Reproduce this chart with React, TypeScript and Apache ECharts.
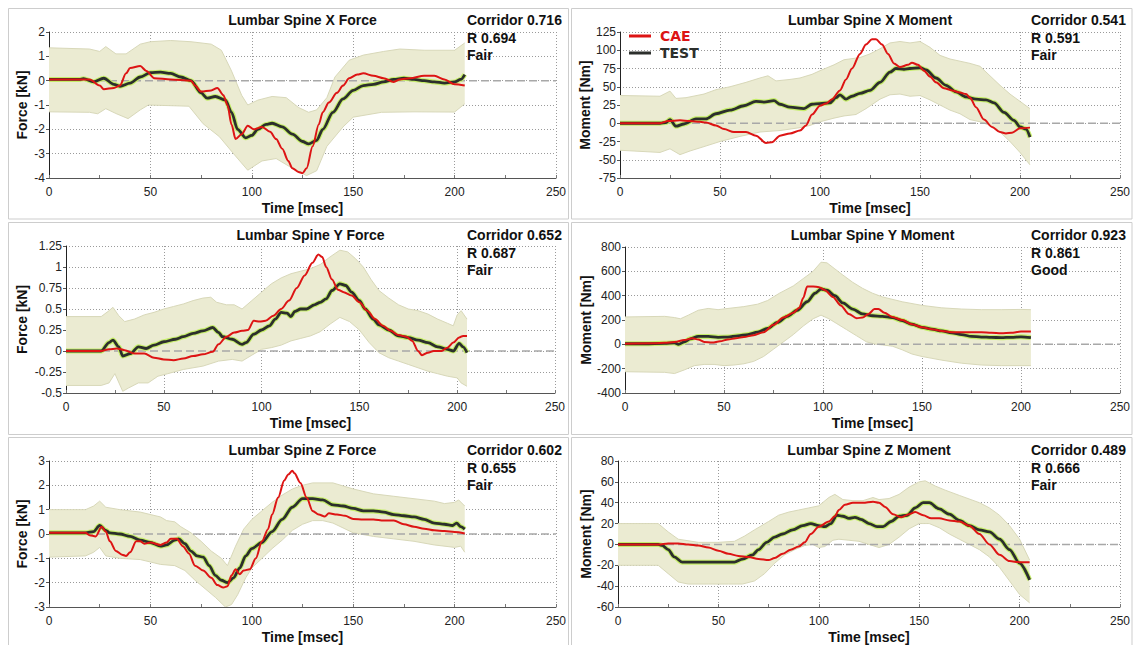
import React, { useEffect, useRef } from 'react';
import * as echarts from 'echarts';

// ---------- Data ----------
const timeMin = 0;
const timeMax = 250;
const timeStep = 50;

const titles = [
  'Lumbar Spine X Force', 'Lumbar Spine X Moment',
  'Lumbar Spine Y Force', 'Lumbar Spine Y Moment',
  'Lumbar Spine Z Force', 'Lumbar Spine Z Moment',
];
const yNames = ['Force [kN]', 'Moment [Nm]', 'Force [kN]', 'Moment [Nm]', 'Force [kN]', 'Moment [Nm]'];
const corridorScores = ['0.716', '0.541', '0.652', '0.923', '0.602', '0.489'];
const rScores = ['0.694', '0.591', '0.687', '0.861', '0.655', '0.666'];
const ratings = ['Fair', 'Fair', 'Fair', 'Good', 'Fair', 'Fair'];
const yMins = [-4, -75, -0.5, -400, -3, -60];
const yMaxs = [2, 125, 1.25, 800, 3, 80];
const ySteps = [1, 25, 0.25, 200, 1, 20];

// Lumbar Spine X Force
const xForceTest = [[0,0.05],[15,0.05],[17,0.08],[22,-0.05],[27,0.1],[32,-0.15],[35,-0.23],[40,-0.1],[45,0.15],[50,0.33],[55,0.35],[60,0.3],[65,0.15],[70,0.0],[75,-0.5],[78,-0.72],[82,-0.65],[87,-0.8],[90,-1.3],[93,-2.0],[97,-2.35],[100,-2.25],[103,-2.0],[107,-1.8],[110,-1.75],[115,-1.9],[120,-2.2],[125,-2.5],[128,-2.6],[132,-2.45],[135,-2.0],[140,-1.3],[145,-0.75],[150,-0.4],[155,-0.2],[160,-0.15],[165,-0.05],[170,0.05],[175,0.1],[180,0.05],[185,0.0],[190,-0.05],[195,-0.1],[200,-0.05],[203,0.05],[205,0.25]];
const xForceCae = [[0,0.05],[20,0.05],[25,-0.2],[27,-0.35],[32,-0.3],[35,-0.2],[38,0.3],[40,0.52],[45,0.6],[48,0.4],[52,0.1],[60,0.05],[70,0.0],[72,-0.2],[75,-0.45],[80,-0.4],[83,-0.3],[86,-0.6],[88,-1.0],[90,-1.8],[92,-2.4],[95,-2.2],[98,-1.85],[101,-2.0],[105,-1.9],[109,-2.1],[112,-2.4],[115,-2.8],[118,-3.3],[120,-3.6],[123,-3.75],[125,-3.8],[127,-3.6],[130,-2.7],[133,-1.8],[135,-1.3],[138,-0.9],[142,-0.5],[145,-0.2],[148,0.1],[152,0.25],[155,0.3],[160,0.2],[165,0.1],[170,-0.05],[173,0.05],[178,0.1],[185,0.2],[190,0.2],[195,0.05],[200,-0.15],[205,-0.2]];
const xForceUpper = [[0,1.35],[20,1.3],[25,1.2],[28,1.4],[33,1.1],[38,1.1],[45,1.5],[50,1.6],[60,1.65],[70,1.6],[80,1.5],[85,1.25],[90,0.4],[95,-0.6],[98,-1.0],[103,-0.8],[110,-0.65],[117,-0.7],[123,-1.1],[128,-1.3],[132,-1.2],[137,-0.7],[141,0.15],[148,0.84],[155,1.05],[165,1.2],[173,1.3],[185,1.25],[200,1.25],[205,1.55]];
const xForceLower = [[0,-1.28],[20,-1.3],[24,-1.36],[28,-1.15],[33,-1.35],[39,-1.56],[45,-1.2],[49,-1.0],[69,-1.05],[76,-1.77],[84,-2.3],[92,-3.1],[98,-3.68],[105,-3.3],[112,-3.2],[119,-3.55],[127,-3.9],[132,-3.7],[137,-2.7],[145,-1.9],[150,-1.5],[164,-1.3],[180,-1.28],[200,-1.29],[205,-0.95]];

// Lumbar Spine X Moment
const xMomentTest = [[0,0],[20,0],[23,1],[25,5],[28,-4],[32,-1],[38,6],[43,6],[48,13],[55,18],[62,24],[68,30],[72,29],[77,31],[80,26],[85,22],[92,20],[96,26],[100,27],[105,28],[108,35],[110,39],[113,33],[116,37],[120,41],[125,45],[130,56],[135,70],[138,75],[142,74],[145,75],[150,76],[153,73],[158,62],[163,52],[168,43],[173,36],[178,33],[183,32],[187,28],[192,15],[197,4],[200,-5],[203,-8],[205,-19]];
const xMomentCae = [[0,0],[20,0],[24,3],[30,4],[35,3],[40,2],[43,1],[48,-3],[52,-8],[57,-12],[63,-12],[68,-17],[73,-27],[76,-26],[80,-17],[85,-14],[90,-10],[93,-3],[96,12],[100,24],[103,27],[106,33],[110,45],[113,60],[116,75],[120,95],[123,108],[126,115],[128,115],[131,108],[134,95],[137,82],[140,77],[144,80],[146,83],[149,80],[152,72],[155,64],[158,56],[162,48],[166,45],[170,42],[173,40],[175,35],[178,22],[182,5],[186,-5],[190,-12],[193,-14],[196,-13],[200,-7],[205,-6]];
const xMomentUpper = [[0,38],[20,37],[25,44],[28,34],[33,35],[42,40],[48,46],[55,50],[63,56],[70,62],[74,65],[78,58],[85,60],[90,62],[96,67],[100,72],[107,80],[112,87],[120,90],[125,95],[130,102],[135,110],[140,112],[145,110],[150,112],[155,104],[160,93],[165,88],[170,85],[175,82],[180,78],[185,65],[190,52],[195,40],[200,30],[205,20]];
const xMomentLower = [[0,-37],[20,-40],[25,-35],[30,-43],[35,-38],[42,-32],[50,-25],[60,-18],[70,-12],[80,-10],[90,-6],[95,-3],[100,2],[107,7],[112,10],[118,12],[123,20],[130,33],[135,39],[140,40],[145,37],[150,38],[155,32],[160,25],[165,18],[170,13],[175,5],[180,2],[185,-3],[190,-12],[195,-25],[200,-40],[205,-57]];

// Lumbar Spine Y Force
const yForceTest = [[0,0],[18,0],[22,0.1],[24,0.13],[27,0.05],[29,-0.06],[33,-0.03],[37,0.05],[41,0.03],[45,0.07],[50,0.11],[56,0.14],[60,0.17],[65,0.21],[70,0.24],[75,0.28],[78,0.22],[80,0.17],[85,0.14],[90,0.08],[92,0.1],[96,0.2],[100,0.25],[104,0.3],[107,0.38],[110,0.46],[113,0.45],[115,0.41],[117,0.47],[120,0.5],[123,0.5],[127,0.55],[130,0.58],[133,0.62],[136,0.72],[140,0.8],[143,0.78],[146,0.7],[150,0.6],[153,0.5],[157,0.38],[160,0.31],[165,0.25],[170,0.18],[175,0.16],[180,0.13],[185,0.1],[190,0.05],[195,0.02],[198,0.0],[201,0.09],[203,0.05],[205,-0.02]];
const yForceCae = [[0,0],[18,0],[22,0.02],[26,0.03],[30,0.01],[35,-0.03],[40,-0.03],[45,-0.08],[50,-0.1],[55,-0.11],[60,-0.09],[65,-0.06],[70,-0.04],[75,-0.01],[78,0.08],[82,0.17],[86,0.22],[90,0.24],[93,0.25],[96,0.36],[99,0.35],[102,0.36],[106,0.42],[110,0.5],[114,0.6],[118,0.75],[122,0.9],[126,1.05],[129,1.15],[131,1.12],[133,1.0],[136,0.85],[139,0.73],[142,0.7],[146,0.66],[150,0.58],[154,0.48],[158,0.38],[162,0.3],[166,0.24],[170,0.19],[174,0.17],[177,0.12],[180,0.0],[182,-0.05],[185,-0.02],[188,0.0],[192,0.0],[195,0.04],[198,0.1],[201,0.16],[203,0.18],[205,0.18]];
const yForceUpper = [[0,0.41],[18,0.41],[22,0.48],[24,0.52],[27,0.42],[30,0.35],[35,0.38],[40,0.43],[45,0.46],[50,0.5],[55,0.53],[60,0.56],[65,0.6],[70,0.63],[74,0.64],[77,0.58],[82,0.55],[86,0.55],[90,0.5],[95,0.6],[100,0.7],[105,0.8],[110,0.87],[115,0.92],[120,0.95],[125,0.98],[130,1.03],[135,1.12],[140,1.2],[144,1.18],[148,1.1],[152,1.0],[156,0.85],[160,0.72],[165,0.63],[170,0.55],[175,0.5],[180,0.48],[185,0.44],[190,0.38],[195,0.33],[198,0.3],[200,0.43],[202,0.48],[205,0.38]];
const yForceLower = [[0,-0.41],[18,-0.41],[22,-0.38],[25,-0.27],[29,-0.48],[32,-0.44],[37,-0.38],[42,-0.38],[47,-0.3],[52,-0.27],[60,-0.22],[70,-0.18],[78,-0.12],[85,-0.1],[90,-0.12],[95,-0.05],[100,0.02],[105,0.04],[110,0.07],[115,0.12],[120,0.15],[125,0.18],[130,0.23],[135,0.32],[140,0.4],[145,0.35],[150,0.25],[155,0.1],[160,-0.02],[165,-0.08],[170,-0.12],[175,-0.16],[180,-0.2],[185,-0.24],[190,-0.27],[195,-0.3],[200,-0.32],[202,-0.38],[205,-0.42]];

// Lumbar Spine Y Moment
const yMomentTest = [[0,5],[10,5],[20,8],[25,12],[27,0],[30,20],[33,45],[37,65],[42,65],[47,58],[52,60],[57,70],[62,80],[67,100],[72,130],[77,180],[82,230],[87,280],[92,350],[96,420],[99,455],[102,445],[106,400],[110,340],[115,290],[120,250],[125,235],[130,230],[135,220],[140,195],[145,165],[150,140],[155,125],[160,110],[165,95],[170,80],[175,65],[180,60],[185,57],[190,55],[195,58],[200,62],[205,55]];
const yMomentCae = [[0,5],[15,8],[20,12],[25,20],[30,35],[34,50],[37,40],[40,20],[44,15],[48,25],[52,40],[56,50],[60,60],[65,75],[70,100],[75,160],[80,220],[85,260],[88,300],[90,380],[92,475],[95,475],[98,470],[101,445],[105,390],[109,320],[113,250],[117,215],[120,220],[123,250],[126,290],[128,290],[131,260],[135,225],[140,200],[145,165],[150,140],[155,125],[160,110],[165,100],[170,100],[175,100],[180,100],[185,95],[190,92],[195,95],[200,105],[205,105]];
const yMomentUpper = [[0,225],[20,230],[25,220],[28,210],[32,240],[37,280],[42,295],[47,285],[52,295],[60,310],[67,330],[72,360],[78,420],[85,480],[90,540],[95,600],[99,675],[102,670],[106,620],[110,570],[115,510],[120,460],[125,420],[130,390],[140,350],[150,320],[160,300],[170,290],[180,285],[190,285],[200,287],[205,285]];
const yMomentLower = [[0,-225],[20,-230],[25,-240],[30,-210],[35,-175],[40,-165],[45,-165],[50,-175],[55,-170],[60,-160],[65,-140],[70,-100],[75,-40],[80,20],[85,80],[90,150],[95,210],[99,240],[103,210],[107,170],[112,120],[117,70],[122,20],[127,0],[130,-5],[135,-15],[140,-45],[145,-80],[150,-100],[155,-115],[160,-130],[170,-155],[180,-170],[190,-175],[200,-175],[205,-175]];

// Lumbar Spine Z Force
const zForceTest = [[0,0.05],[18,0.05],[22,0.1],[25,0.35],[28,0.15],[30,0.05],[35,0.0],[40,-0.1],[45,-0.25],[50,-0.35],[55,-0.5],[58,-0.45],[62,-0.25],[64,-0.2],[67,-0.4],[70,-0.7],[73,-0.9],[76,-0.95],[79,-1.3],[82,-1.7],[85,-1.9],[88,-2.0],[91,-1.8],[94,-1.4],[97,-0.9],[100,-0.6],[105,-0.35],[110,0.1],[115,0.6],[120,1.1],[125,1.45],[130,1.45],[135,1.4],[140,1.2],[145,1.15],[150,1.05],[155,0.95],[160,0.95],[165,0.9],[170,0.8],[175,0.75],[180,0.7],[185,0.6],[190,0.45],[195,0.4],[199,0.35],[201,0.45],[203,0.3],[205,0.2]];
const zForceCae = [[0,0.05],[18,0.05],[20,-0.05],[23,-0.1],[26,0.3],[28,0.1],[30,-0.3],[33,-0.7],[36,-0.85],[38,-0.9],[40,-0.75],[43,-0.3],[45,-0.3],[47,-0.4],[50,-0.35],[55,-0.45],[58,-0.35],[60,-0.2],[63,-0.2],[66,-0.5],[69,-0.8],[72,-1.3],[76,-1.5],[80,-1.8],[83,-2.1],[86,-2.2],[88,-2.15],[90,-1.7],[92,-1.45],[94,-1.65],[96,-1.5],[99,-1.45],[102,-1.0],[105,-0.3],[108,0.2],[110,0.8],[113,1.5],[116,2.2],[118,2.45],[120,2.6],[121,2.5],[124,2.1],[127,1.5],[130,0.95],[133,0.8],[136,0.72],[138,0.85],[142,0.8],[146,0.75],[150,0.62],[155,0.6],[160,0.6],[165,0.55],[170,0.55],[175,0.4],[180,0.3],[185,0.22],[190,0.15],[195,0.12],[200,0.08],[205,0.02]];
const zForceUpper = [[0,1.0],[18,1.0],[22,1.15],[25,1.35],[28,1.1],[35,1.0],[45,0.9],[55,0.7],[58,0.55],[62,0.5],[65,0.3],[70,0.05],[75,-0.3],[80,-0.7],[85,-1.0],[88,-1.3],[92,-0.5],[96,0.2],[100,0.6],[105,0.95],[110,1.3],[115,1.6],[120,1.85],[125,2.0],[130,2.1],[140,2.1],[150,1.85],[160,1.65],[170,1.55],[180,1.45],[190,1.35],[195,1.25],[200,1.3],[202,1.4],[205,1.15]];
const zForceLower = [[0,-0.95],[18,-0.9],[22,-0.75],[25,-0.55],[28,-0.9],[35,-1.0],[45,-1.05],[55,-1.25],[62,-1.3],[67,-1.5],[72,-1.9],[77,-2.25],[82,-2.6],[87,-3.0],[90,-2.9],[93,-2.5],[97,-1.8],[100,-1.4],[105,-1.0],[110,-0.6],[115,-0.25],[120,0.15],[125,0.4],[130,0.55],[135,0.55],[140,0.45],[145,0.25],[150,0.05],[160,-0.1],[170,-0.2],[180,-0.3],[190,-0.45],[200,-0.55],[203,-0.5],[205,-0.75]];

// Lumbar Spine Z Moment
const zMomentTest = [[0,0],[20,0],[22,-1],[25,-5],[28,-12],[32,-17],[38,-17],[45,-17],[52,-17],[58,-17],[62,-14],[67,-10],[70,-5],[74,2],[78,7],[82,10],[87,14],[92,18],[96,20],[100,18],[103,17],[106,20],[109,28],[112,27],[115,25],[118,26],[121,24],[125,20],[129,17],[132,17],[136,22],[140,27],[144,28],[148,35],[152,40],[155,40],[160,34],[165,29],[170,23],[175,18],[180,14],[185,12],[190,5],[195,-5],[200,-18],[205,-34]];
const zMomentCae = [[0,0],[20,0],[25,1],[30,1],[35,0],[40,-1],[45,-3],[50,-6],[55,-9],[60,-11],[65,-12],[70,-14],[75,-15],[78,-13],[82,-9],[86,-5],[90,-2],[93,2],[96,10],[100,17],[105,22],[108,27],[110,33],[113,38],[117,40],[122,40],[127,41],[130,40],[133,36],[137,29],[141,26],[145,29],[148,31],[152,28],[156,25],[160,25],[165,23],[170,22],[175,18],[180,10],[185,0],[190,-10],[195,-16],[200,-17],[205,-17]];
const zMomentUpper = [[0,20],[20,20],[25,12],[30,5],[40,2],[50,2],[58,3],[63,8],[68,14],[75,22],[80,28],[85,31],[90,33],[95,35],[100,37],[105,45],[108,48],[112,43],[117,42],[122,42],[127,45],[130,43],[135,44],[140,48],[145,55],[150,60],[153,61],[158,56],[163,52],[170,47],[180,40],[185,35],[190,28],[195,18],[200,5],[205,-15]];
const zMomentLower = [[0,-20],[20,-20],[25,-28],[30,-36],[35,-38],[45,-38],[55,-38],[62,-38],[68,-35],[73,-28],[78,-18],[83,-10],[88,-5],[93,-1],[97,0],[100,-3],[103,-2],[107,4],[110,5],[115,4],[120,3],[125,0],[130,-3],[135,0],[140,7],[145,15],[150,20],[155,20],[160,16],[165,10],[170,5],[175,0],[180,-5],[185,-12],[190,-22],[195,-35],[200,-48],[205,-56]];

const zeroLine = [[0, 0], [250, 0]];

const testSeries = [xForceTest, xMomentTest, yForceTest, yMomentTest, zForceTest, zMomentTest];
const caeSeries = [xForceCae, xMomentCae, yForceCae, yMomentCae, zForceCae, zMomentCae];
const upperBounds = [xForceUpper, xMomentUpper, yForceUpper, yMomentUpper, zForceUpper, zMomentUpper];
const lowerBounds = [xForceLower, xMomentLower, yForceLower, yMomentLower, zForceLower, zMomentLower];

// ---------- Layout (positions / styles) ----------
const layouts = [
  { left: 49, top: 32, width: 507, height: 146, yGap: 20, box: [8.5, 8.5, 560, 210.5], rowY: 20, statX: 467 },
  { left: 620, top: 32, width: 500, height: 146, yGap: 27, box: [571.5, 8.5, 560.5, 210.5], rowY: 20, statX: 1031 },
  { left: 66, top: 246, width: 489, height: 147, yGap: 37, box: [8.5, 222.5, 560, 212], rowY: 235, statX: 467 },
  { left: 625, top: 247, width: 495, height: 146, yGap: 32, box: [571.5, 222.5, 560.5, 212], rowY: 235, statX: 1031 },
  { left: 49, top: 461, width: 507, height: 147, yGap: 20, box: [8.5, 437.5, 560, 215], rowY: 450, statX: 467 },
  { left: 618, top: 461, width: 502, height: 147, yGap: 25, box: [571.5, 437.5, 560.5, 215], rowY: 450, statX: 1031 },
];

const FONT = 'Liberation Sans, Arial, sans-serif';
const RED = '#dd1414';
const DARK = '#2c2f2c';
const HALO = '#c6ee6a';
const BAND = '#ebebd2';
const BAND_EDGE = '#d8d8b9';

function bandSeries(i: number) {
  const upper = upperBounds[i];
  const lower = lowerBounds[i];
  return {
    type: 'custom',
    xAxisIndex: i,
    yAxisIndex: i,
    silent: true,
    z: 1,
    clip: true,
    encode: { x: 0, y: 1 },
    data: [upper[0]],
    renderItem: (params: any, api: any) => {
      if (params.dataIndex !== 0) return null;
      const up = upper.map((p) => api.coord(p));
      const lo = lower.map((p) => api.coord(p));
      const poly = up.concat(lo.slice().reverse());
      return {
        type: 'group',
        children: [
          { type: 'polygon', shape: { points: poly }, style: { fill: BAND, stroke: null } },
          { type: 'polyline', shape: { points: up }, style: { fill: null, stroke: BAND_EDGE, lineWidth: 1 } },
          { type: 'polyline', shape: { points: lo }, style: { fill: null, stroke: BAND_EDGE, lineWidth: 1 } },
        ],
      };
    },
  };
}

function lineSeries(name: string, data: number[][], i: number, color: string, width: number, z: number) {
  return {
    type: 'line',
    name,
    data,
    xAxisIndex: i,
    yAxisIndex: i,
    showSymbol: false,
    symbol: 'none',
    smooth: 0.3,
    smoothMonotone: 'x',
    silent: true,
    z,
    lineStyle: { color, width },
    itemStyle: { color },
  };
}

function buildOption() {
  const grid: any[] = [];
  const xAxis: any[] = [];
  const yAxis: any[] = [];
  const series: any[] = [];
  const graphic: any[] = [];

  layouts.forEach((L, i) => {
    grid.push({ left: L.left, top: L.top, width: L.width, height: L.height, containLabel: false });
    xAxis.push({
      type: 'value', gridIndex: i, min: timeMin, max: timeMax, interval: timeStep,
      name: 'Time [msec]', nameLocation: 'middle', nameGap: 23,
      nameTextStyle: { fontFamily: FONT, fontWeight: 'bold', fontSize: 14, color: '#111' },
      axisLine: { show: true, onZero: false, lineStyle: { color: '#555', width: 1 } },
      axisTick: { show: true, inside: true, length: 3, lineStyle: { color: '#777' } },
      minorTick: { show: true, splitNumber: 2, length: 3, lineStyle: { color: '#777' } },
      axisLabel: { margin: 8, fontFamily: FONT, fontSize: 12, color: '#222' },
      splitLine: { show: true, lineStyle: { color: '#9a9a9a', type: [1, 2], width: 1 } },
    });
    yAxis.push({
      type: 'value', gridIndex: i, min: yMins[i], max: yMaxs[i], interval: ySteps[i],
      name: yNames[i], nameLocation: 'middle', nameGap: L.yGap,
      nameTextStyle: { fontFamily: FONT, fontWeight: 'bold', fontSize: 14, color: '#111' },
      axisLine: { show: true, onZero: false, lineStyle: { color: '#222', width: 1 } },
      axisTick: { show: true, length: 3, lineStyle: { color: '#555' } },
      axisLabel: { margin: 4, fontFamily: FONT, fontSize: 12, color: '#222' },
      splitLine: { show: true, lineStyle: { color: '#9a9a9a', type: [1, 2], width: 1 } },
    });

    series.push(bandSeries(i));
    series.push({
      type: 'line', name: 'zero', data: zeroLine, xAxisIndex: i, yAxisIndex: i,
      showSymbol: false, symbol: 'none', silent: true, z: 2,
      lineStyle: { color: '#a8a8a8', width: 1.5, type: [8, 4] },
    });
    series.push(lineSeries('TEST halo', testSeries[i], i, HALO, 5, 3));
    series.push(lineSeries('TEST', testSeries[i], i, DARK, 2.8, 4));
    series.push(lineSeries('CAE', caeSeries[i], i, RED, 2, 5));

    const [bx, by, bw, bh] = L.box;
    graphic.push({
      type: 'rect', silent: true, z: 0,
      shape: { x: bx, y: by, width: bw, height: bh },
      style: { fill: null, stroke: '#cdcdcd', lineWidth: 1 },
    });
    graphic.push({
      type: 'text', silent: true, z: 10,
      x: L.left + L.width / 2, y: L.rowY,
      style: { text: titles[i], align: 'center', verticalAlign: 'middle', fontFamily: FONT, fontWeight: 'bold', fontSize: 14, fill: '#111' },
    });
    const stats = ['Corridor ' + corridorScores[i], 'R ' + rScores[i], ratings[i]];
    stats.forEach((s, k) => {
      graphic.push({
        type: 'text', silent: true, z: 10,
        x: L.statX, y: L.rowY + k * 17.5,
        style: { text: s, align: 'left', verticalAlign: 'middle', fontFamily: FONT, fontWeight: 'bold', fontSize: 14, fill: '#111' },
      });
    });
  });

  return {
    animation: false,
    backgroundColor: '#ffffff',
    grid,
    xAxis,
    yAxis,
    series,
    graphic,
    legend: {
      data: [
        { name: 'CAE', textStyle: { color: RED } },
        { name: 'TEST', textStyle: { color: DARK } },
      ],
      orient: 'vertical',
      left: 629,
      top: 29,
      padding: 0,
      itemGap: 3,
      itemWidth: 22,
      itemHeight: 3,
      icon: 'rect',
      selectedMode: false,
      textStyle: { fontFamily: 'DejaVu Sans', fontWeight: 'bold', fontSize: 14, padding: [0, 0, 0, 4] },
    },
  };
}

export default function App() {
  const ref = useRef<HTMLDivElement>(null);
  useEffect(() => {
    const chart = echarts.init(ref.current as HTMLDivElement, null, { renderer: 'svg' });
    chart.setOption(buildOption() as any);
    return () => chart.dispose();
  }, []);
  return (
    <div
      ref={ref}
      style={{ position: 'absolute', left: 0, top: 0, width: 1133, height: 645, background: '#fff' }}
    />
  );
}
